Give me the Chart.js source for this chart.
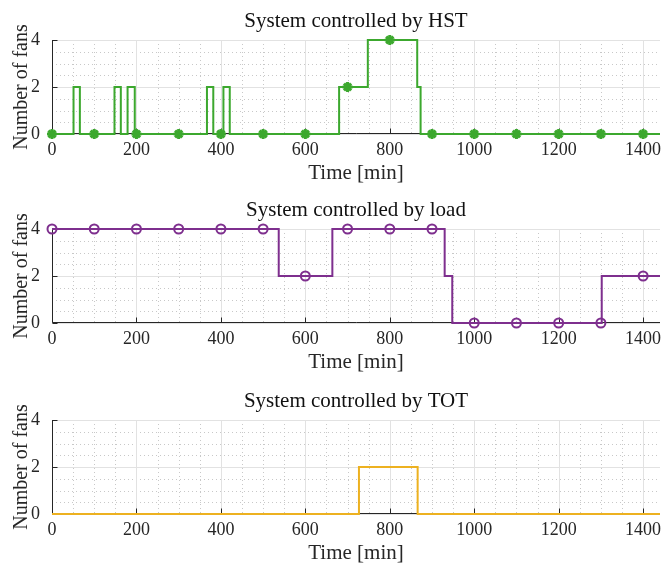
<!DOCTYPE html>
<html>
<head>
<meta charset="utf-8">
<script src="https://cdn.jsdelivr.net/npm/chart.js@4.4.1/dist/chart.umd.min.js"></script>
<style>
  html, body { margin: 0; padding: 0; background: #fff; overflow: hidden; }
  #wrap { position: relative; width: 662px; height: 565px; }
  canvas { position: absolute; left: 0; }
</style>
</head>
<body>
<div id="wrap">
  <canvas id="c1" width="662" height="190" style="top:0px"></canvas>
  <canvas id="c2" width="662" height="190" style="top:189px"></canvas>
  <canvas id="c3" width="662" height="190" style="top:380px"></canvas>
</div>
<script>
// step series: value holds from time[i] until time[i+1]
const hstTime = [0, 51, 66, 148, 163, 179, 196, 367, 382, 406, 421, 680, 748, 865, 873, 1440];
const hstFans = [0, 2, 0, 2, 0, 2, 0, 2, 0, 2, 0, 2, 4, 2, 0, 0];

const loadTime = [0, 537, 664, 930, 948, 1302, 1440];
const loadFans = [4, 2, 4, 2, 0, 2, 2];

const totTime = [0, 727, 866, 1440];
const totFans = [0, 2, 0, 0];

// markers every 100 min
const markTime = [0, 100, 200, 300, 400, 500, 600, 700, 800, 900, 1000, 1100, 1200, 1300, 1400];
const hstMarks = [0, 0, 0, 0, 0, 0, 0, 2, 4, 0, 0, 0, 0, 0, 0];
const loadMarks = [4, 4, 4, 4, 4, 4, 2, 4, 4, 4, 0, 0, 0, 0, 2];

const xTicks = [0, 200, 400, 600, 800, 1000, 1200, 1400];
const yTicks = [0, 2, 4];

const FONT = '"Liberation Serif", "Times New Roman", serif';
const TXT = '#262626';

// grid, axes and tick marks drawn like a MATLAB axes box
const gridPlugin = {
    id: 'matlabGrid',
    beforeDatasetsDraw(chart) {
        const ctx = chart.ctx;
        const a = chart.chartArea;
        const x = chart.scales.x, y = chart.scales.y;
        ctx.save();
        // minor dotted grid
        ctx.strokeStyle = '#c8c8c8';
        ctx.lineWidth = 1;
        ctx.setLineDash([1, 3]);
        for (let v = 50; v < 1440; v += 50) {
            if (v % 200 === 0) continue;
            const px = Math.round(x.getPixelForValue(v)) + 0.5;
            ctx.beginPath(); ctx.moveTo(px, a.top); ctx.lineTo(px, a.bottom); ctx.stroke();
        }
        for (let v = 0.5; v < 4; v += 0.5) {
            if (v % 2 === 0) continue;
            const py = Math.round(y.getPixelForValue(v)) + 0.5;
            ctx.beginPath(); ctx.moveTo(a.left, py); ctx.lineTo(a.right, py); ctx.stroke();
        }
        // major grid
        ctx.setLineDash([]);
        ctx.strokeStyle = '#e2e2e2';
        xTicks.forEach(v => {
            const px = Math.round(x.getPixelForValue(v)) + 0.5;
            ctx.beginPath(); ctx.moveTo(px, a.top); ctx.lineTo(px, a.bottom); ctx.stroke();
        });
        yTicks.forEach(v => {
            const py = Math.round(y.getPixelForValue(v)) + 0.5;
            ctx.beginPath(); ctx.moveTo(a.left, py); ctx.lineTo(a.right, py); ctx.stroke();
        });
        // axis lines
        ctx.strokeStyle = TXT;
        const bx = Math.round(a.left) + 0.5, by = Math.round(a.bottom) - 0.5;
        ctx.beginPath();
        ctx.moveTo(bx, a.top); ctx.lineTo(bx, by); ctx.lineTo(a.right, by);
        ctx.stroke();
        // inward tick marks
        xTicks.forEach(v => {
            const px = Math.round(x.getPixelForValue(v)) + 0.5;
            ctx.beginPath(); ctx.moveTo(px, by); ctx.lineTo(px, by - 5); ctx.stroke();
        });
        yTicks.forEach(v => {
            const py = Math.round(y.getPixelForValue(v)) + 0.5;
            ctx.beginPath(); ctx.moveTo(bx, py); ctx.lineTo(bx + 5, py); ctx.stroke();
        });
        ctx.restore();
    },
    afterDraw(chart) {
        const ctx = chart.ctx;
        const a = chart.chartArea;
        ctx.save();
        ctx.fillStyle = '#111';
        ctx.font = '21px ' + FONT;
        ctx.textAlign = 'center';
        ctx.textBaseline = 'alphabetic';
        ctx.fillText(chart.options.plugins.matlabGrid.title, (a.left + a.right) / 2, 27);
        ctx.restore();
    }
};

function makeChart(id, title, times, fans, marks, color, markStyle) {
    const datasets = [{
        data: times.map((t, i) => ({ x: t, y: fans[i] })),
        borderColor: color,
        borderWidth: 2,
        stepped: 'before',
        pointRadius: 0,
        fill: false,
        clip: false,
        order: 2
    }];
    if (marks) {
        const star = markStyle === 'star';
        datasets.push({
            data: markTime.map((t, i) => ({ x: t, y: marks[i] })),
            showLine: false,
            clip: false,
            pointStyle: markStyle,
            pointRadius: star ? 5 : 4.5,
            borderColor: color,
            backgroundColor: star ? color : 'rgba(0,0,0,0)',
            pointBorderWidth: star ? 3 : 2,
            order: 1
        });
    }
    return new Chart(document.getElementById(id), {
        type: 'line',
        data: { datasets },
        options: {
            responsive: false,
            animation: false,
            layout: { autoPadding: false, padding: { top: 40, right: 2, left: 0, bottom: 0 } },
            plugins: {
                legend: { display: false },
                tooltip: { enabled: false },
                matlabGrid: { title }
            },
            scales: {
                x: {
                    type: 'linear',
                    min: 0,
                    max: 1440,
                    afterBuildTicks: s => { s.ticks = xTicks.map(v => ({ value: v })); },
                    afterFit: s => { s.height = 56; s.paddingLeft = 0; s.paddingRight = 0; },
                    grid: { display: false },
                    border: { display: false },
                    ticks: { color: TXT, font: { family: FONT, size: 18 }, padding: -3, maxRotation: 0,
                             callback: v => String(v) },
                    title: { display: true, text: 'Time [min]', color: TXT,
                             font: { family: FONT, size: 21 }, padding: { top: 0, bottom: 4 } }
                },
                y: {
                    min: 0,
                    max: 4,
                    afterBuildTicks: s => { s.ticks = yTicks.map(v => ({ value: v })); },
                    afterFit: s => { s.width = 52; s.paddingTop = 0; s.paddingBottom = 0; },
                    grid: { display: false },
                    border: { display: false },
                    ticks: { color: TXT, font: { family: FONT, size: 18 }, padding: 4 },
                    title: { display: true, text: 'Number of fans', color: TXT,
                             font: { family: FONT, size: 20 }, padding: { top: 10, bottom: 0 } }
                }
            }
        },
        plugins: [gridPlugin]
    });
}

makeChart('c1', 'System controlled by HST', hstTime, hstFans, hstMarks, '#3ca82e', 'star');
makeChart('c2', 'System controlled by load', loadTime, loadFans, loadMarks, '#7e2f8e', 'circle');
makeChart('c3', 'System controlled by TOT', totTime, totFans, null, '#edb120', null);
</script>
</body>
</html>
